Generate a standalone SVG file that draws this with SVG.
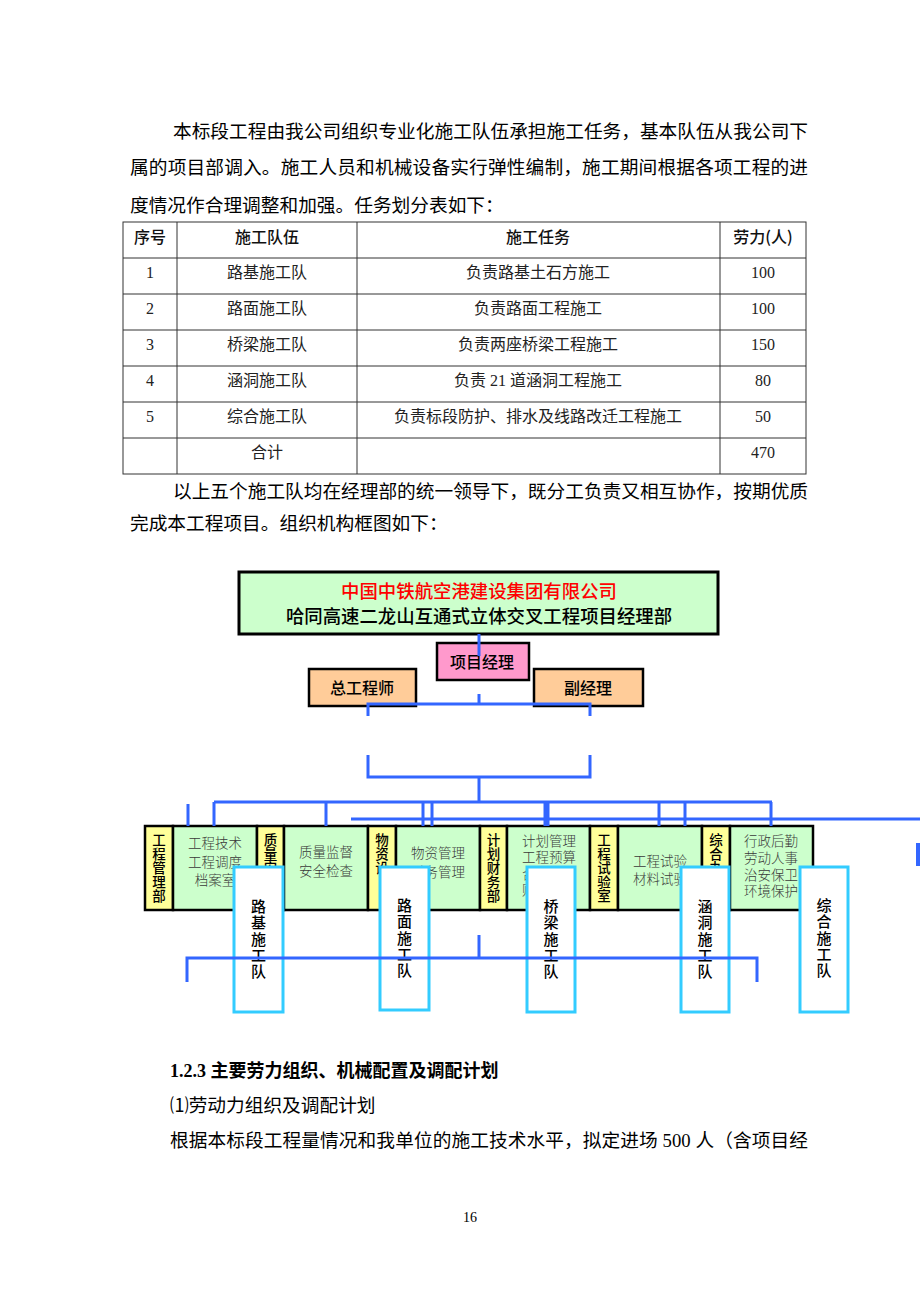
<svg xmlns="http://www.w3.org/2000/svg" width="920" height="1302" viewBox="0 0 920 1302">
<style>
.body{font-family:"Liberation Serif","Noto Sans CJK SC",serif;font-size:18.7px;fill:#000}
.tb{font-family:"Liberation Serif","Noto Sans CJK SC",serif;font-size:16px;fill:#222;text-anchor:middle}
.th{font-family:"Noto Sans CJK SC",sans-serif;font-size:16px;font-weight:500;fill:#111;text-anchor:middle}
.grid{stroke:#333;stroke-width:1;fill:none}
.bx{stroke:#000;stroke-width:3}
.dx{stroke:#000;stroke-width:2.5}
.g{fill:#CCFFCC}
.y{fill:#FFFF99}
.gt{font-family:"Liberation Serif","Noto Sans CJK SC",serif;font-size:13.5px;font-weight:300;fill:#3a3a3a;text-anchor:middle}
.yt{font-family:"Noto Sans CJK SC",sans-serif;font-size:13.5px;font-weight:500;fill:#000;writing-mode:vertical-rl;letter-spacing:0.5px}
.team rect{fill:#fff;stroke:#33CCFF;stroke-width:3}
.tt{font-family:"Noto Sans CJK SC",sans-serif;font-size:15px;font-weight:500;fill:#000;writing-mode:vertical-rl;letter-spacing:1.3px}
.mt{font-family:"Noto Sans CJK SC",sans-serif;font-size:16px;font-weight:500;fill:#000;text-anchor:middle}
.conn path{stroke:#3366FF;stroke-width:3;fill:none}
</style>

<g id="text-top">
<text class="body" x="173" y="138" textLength="635" lengthAdjust="spacing">本标段工程由我公司组织专业化施工队伍承担施工任务，基本队伍从我公司下</text>
<text class="body" x="130" y="174" textLength="678" lengthAdjust="spacing">属的项目部调入。施工人员和机械设备实行弹性编制，施工期间根据各项工程的进</text>
<text class="body" x="130" y="212">度情况作合理调整和加强。任务划分表如下：</text>
</g>

<g id="table">
<rect class="grid" x="123" y="222" width="683" height="252"/>
<path class="grid" d="M123 258H806M123 294H806M123 330H806M123 366H806M123 402H806M123 438H806M177 222V474M357 222V474M720 222V474"/>
<text class="th" x="150" y="243">序号</text>
<text class="th" x="267" y="243">施工队伍</text>
<text class="th" x="538" y="243">施工任务</text>
<text class="th" x="763" y="243">劳力(人)</text>
<text class="tb" x="150" y="278">1</text><text class="tb" x="267" y="278">路基施工队</text><text class="tb" x="538" y="278">负责路基土石方施工</text><text class="tb" x="763" y="278">100</text>
<text class="tb" x="150" y="314">2</text><text class="tb" x="267" y="314">路面施工队</text><text class="tb" x="538" y="314">负责路面工程施工</text><text class="tb" x="763" y="314">100</text>
<text class="tb" x="150" y="350">3</text><text class="tb" x="267" y="350">桥梁施工队</text><text class="tb" x="538" y="350">负责两座桥梁工程施工</text><text class="tb" x="763" y="350">150</text>
<text class="tb" x="150" y="386">4</text><text class="tb" x="267" y="386">涵洞施工队</text><text class="tb" x="538" y="386">负责 21 道涵洞工程施工</text><text class="tb" x="763" y="386">80</text>
<text class="tb" x="150" y="422">5</text><text class="tb" x="267" y="422">综合施工队</text><text class="tb" x="538" y="422">负责标段防护、排水及线路改迁工程施工</text><text class="tb" x="763" y="422">50</text>
<text class="tb" x="267" y="458">合计</text><text class="tb" x="763" y="458">470</text>
</g>

<g id="text-mid">
<text class="body" x="173" y="498" textLength="635" lengthAdjust="spacing">以上五个施工队均在经理部的统一领导下，既分工负责又相互协作，按期优质</text>
<text class="body" x="130" y="530">完成本工程项目。组织机构框图如下：</text>
</g>

<g id="n-company">
<rect class="bx" x="239" y="572" width="479" height="62" fill="#CCFFCC"/>
<text x="479" y="598" text-anchor="middle" font-family="Noto Sans CJK SC, sans-serif" font-size="18.4" font-weight="500" fill="#FF0000">中国中铁航空港建设集团有限公司</text>
<text x="479" y="623" text-anchor="middle" font-family="Noto Sans CJK SC, sans-serif" font-size="18.4" font-weight="500" fill="#000">哈同高速二龙山互通式立体交叉工程项目经理部</text>
</g>
<g id="n-pm">
<rect class="dx" x="437" y="643" width="92" height="37" fill="#FF99CC"/>
<text class="mt" x="482" y="668">项目经理</text>
</g>
<g id="n-chief">
<rect class="dx" x="309" y="669" width="107" height="37" fill="#FFCC99"/>
<text class="mt" x="362" y="694">总工程师</text>
</g>
<g id="n-deputy">
<rect class="dx" x="534" y="669" width="109" height="37" fill="#FFCC99"/>
<text class="mt" x="588" y="694">副经理</text>
</g>

<g id="n-dept1">
<rect class="dx y" x="145" y="826" width="28" height="84"/>
<text class="yt" x="159" y="833">工程管理部</text>
<rect class="dx g" x="173" y="826" width="84" height="84"/>
<text class="gt"><tspan x="215" y="848">工程技术</tspan><tspan x="215" y="867">工程调度</tspan><tspan x="215" y="885">档案室</tspan></text>
</g>
<g id="n-dept2">
<rect class="dx y" x="257" y="826" width="27" height="84"/>
<text class="yt" x="270.5" y="833">质量安</text>
<rect class="dx g" x="284" y="826" width="84" height="84"/>
<text class="gt"><tspan x="326" y="857">质量监督</tspan><tspan x="326" y="876">安全检查</tspan></text>
</g>
<g id="n-dept3">
<rect class="dx y" x="368" y="826" width="28" height="84"/>
<text class="yt" x="382" y="833">物资设</text>
<rect class="dx g" x="396" y="826" width="84" height="84"/>
<text class="gt"><tspan x="438" y="858">物资管理</tspan><tspan x="438" y="877">财务管理</tspan></text>
</g>
<g id="n-dept4">
<rect class="dx y" x="480" y="826" width="27" height="84"/>
<text class="yt" x="493.5" y="833">计划财务部</text>
<rect class="dx g" x="507" y="826" width="83" height="84"/>
<text class="gt"><tspan x="549" y="846">计划管理</tspan><tspan x="549" y="862">工程预算</tspan><tspan x="549" y="879">合同管理</tspan><tspan x="549" y="895">财务管理</tspan></text>
</g>
<g id="n-dept5">
<rect class="dx y" x="590" y="826" width="28" height="84"/>
<text class="yt" x="604" y="833">工程试验室</text>
<rect class="dx g" x="618" y="826" width="84" height="84"/>
<text class="gt"><tspan x="660" y="866">工程试验</tspan><tspan x="660" y="884">材料试验</tspan></text>
</g>
<g id="n-dept6">
<rect class="dx y" x="702" y="826" width="28" height="84"/>
<text class="yt" x="716" y="833">综合办</text>
<rect class="dx g" x="730" y="826" width="83" height="84"/>
<text class="gt"><tspan x="771" y="846">行政后勤</tspan><tspan x="771" y="863">劳动人事</tspan><tspan x="771" y="880">治安保卫</tspan><tspan x="771" y="896">环境保护</tspan></text>
</g>

<g id="team-luji" class="team">
<rect x="234" y="867" width="49" height="145"/>
<text class="tt" x="258.5" y="899">路基施工队</text>
</g>
<g id="team-lumian" class="team">
<rect x="380" y="867" width="49" height="143"/>
<text class="tt" x="404.5" y="898">路面施工队</text>
</g>
<g id="team-qiaoliang" class="team">
<rect x="527" y="867" width="48" height="145"/>
<text class="tt" x="551" y="899">桥梁施工队</text>
</g>
<g id="team-handong" class="team">
<rect x="681" y="867" width="48" height="145"/>
<text class="tt" x="705" y="899">涵洞施工队</text>
</g>
<g id="team-zonghe" class="team">
<rect x="800" y="867" width="48" height="145"/>
<text class="tt" x="824" y="898">综合施工队</text>
</g>

<g id="connectors" class="conn">
<path d="M479 634V656"/>
<path d="M479 694V704"/>
<path d="M368 716V704H590V716"/>
<path d="M368 755V777H590V755"/>
<path d="M479 777V802"/>
<path d="M214 802H772"/>
<path d="M351 819H920"/>
<path d="M188 804V826M214 802V826M326 802V826M423 802V826M432 802V826M545 802V826M548 802V826M659 802V826M685 802V826M771 802V826"/>
<path d="M918 843V866" style="stroke-width:4"/>
<path d="M187 982V958H757V982"/>
<path d="M479 935V958"/>
</g>

<g id="text-bottom">
<text x="170" y="1077" font-family="Liberation Serif, Noto Sans CJK SC, serif" font-size="18" font-weight="bold" fill="#000">1.2.3 主要劳力组织、机械配置及调配计划</text>
<text class="body" x="170" y="1112">⑴劳动力组织及调配计划</text>
<text class="body" x="170" y="1147" textLength="638" lengthAdjust="spacing">根据本标段工程量情况和我单位的施工技术水平，拟定进场 500 人（含项目经</text>
<text x="470" y="1222" text-anchor="middle" font-family="Liberation Serif, serif" font-size="14" fill="#000">16</text>
</g>
</svg>
